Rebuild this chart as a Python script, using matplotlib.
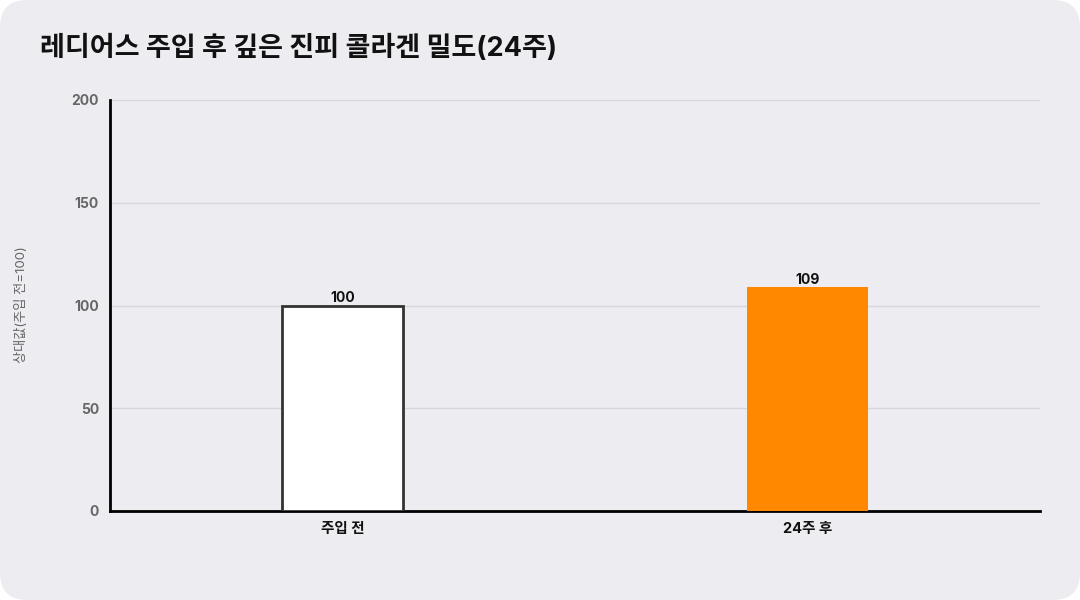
import matplotlib
matplotlib.use('Agg')
from matplotlib import pyplot as plt
from matplotlib.patches import FancyBboxPatch

plt.rcParams['font.family'] = ['Inter', 'Noto Sans CJK KR', 'DejaVu Sans']

categories = ['주입 전', '24주 후']
values = [100, 109]
bar_colors = ['#ffffff', '#ff8800']
edge_colors = ['#333333', '#ff8800']
y_ticks = [0, 50, 100, 150, 200]

BG = '#ececf1'

fig = plt.figure(figsize=(10.8, 6), dpi=100, facecolor='white')
bg = FancyBboxPatch((0.0, 0.0), 1.0, 1.0, boxstyle='round,pad=0,rounding_size=0.025',
                    transform=fig.transFigure, facecolor=BG, edgecolor='none',
                    mutation_aspect=1.8, zorder=-10)
fig.patches.append(bg)

ax = fig.add_axes([110 / 1080, 1 - 511 / 600, 930 / 1080, 411 / 600])
ax.set_facecolor(BG)

xs = list(range(len(categories)))
bars = ax.bar(xs, values, width=0.26, color=bar_colors, edgecolor=edge_colors,
              linewidth=[2, 0], zorder=3)

for x, v in zip(xs, values):
    ax.text(x, v + 0.2, str(v), ha='center', va='bottom', fontsize=10,
            fontweight='bold', color='#111111', zorder=4)

ax.set_xlim(-0.5, 1.5)
ax.set_ylim(0, 200)
ax.set_yticks(y_ticks)
ax.set_xticks(xs)
ax.set_xticklabels(categories, fontsize=10.5, fontweight='bold', color='#111111')
ax.tick_params(axis='y', length=0, pad=8, labelsize=10, labelcolor='#666666')
ax.tick_params(axis='x', length=0, pad=8)
for lbl in ax.get_yticklabels():
    lbl.set_fontweight('bold')

ax.grid(axis='y', color='#d6d6dc', linewidth=1, zorder=0)
ax.set_axisbelow(True)
for s in ['top', 'right']:
    ax.spines[s].set_visible(False)
ax.spines['left'].set_linewidth(2)
ax.spines['bottom'].set_linewidth(2)
ax.spines['left'].set_color('black')
ax.spines['bottom'].set_color('black')

fig.text(22 / 1080, 1 - 305 / 600, '상대값(주입 전=100)', rotation=90, ha='center', va='center',
         fontsize=9.5, color='#666666')
fig.text(40 / 1080, 1 - 48 / 600, '레디어스 주입 후 깊은 진피 콜라겐 밀도(24주)', ha='left', va='center',
         fontsize=19.5, fontweight='bold', color='#111111')

plt.savefig('out.png', dpi=100, facecolor=fig.get_facecolor())
